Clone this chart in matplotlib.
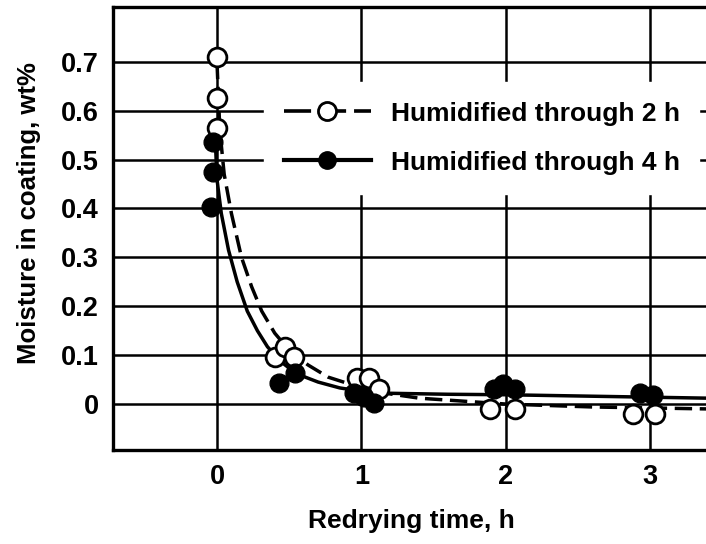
import matplotlib
matplotlib.use("Agg")
import matplotlib.pyplot as plt

plt.rcParams['font.family'] = ['Liberation Sans', 'DejaVu Sans']
plt.rcParams['font.weight'] = 'bold'

# measured points, humidified through 2 h (open circles)
x_2h = [0.0, 0.0, 0.0, 0.40, 0.47, 0.53, 0.97, 1.05, 1.12, 1.89, 2.06, 2.88, 3.03]
y_2h = [0.71, 0.625, 0.565, 0.096, 0.117, 0.096, 0.053, 0.053, 0.03, -0.01, -0.01, -0.02, -0.02]

# measured points, humidified through 4 h (filled circles)
x_4h = [-0.03, -0.03, -0.04, 0.43, 0.54, 0.95, 1.02, 1.09, 1.92, 1.98, 2.06, 2.93, 3.02]
y_4h = [0.535, 0.475, 0.403, 0.043, 0.063, 0.022, 0.015, 0.002, 0.03, 0.04, 0.03, 0.022, 0.018]

# fitted curves
cx_2h = [0.0, 0.02, 0.05, 0.10, 0.17, 0.24, 0.31, 0.40, 0.50, 0.63, 0.77, 0.95, 1.1, 1.4, 2.0, 2.6, 3.4]
cy_2h = [0.70, 0.56, 0.47, 0.39, 0.30, 0.24, 0.19, 0.145, 0.11, 0.08, 0.055, 0.038, 0.025, 0.012, 0.0, -0.006, -0.01]

cx_4h = [-0.01, 0.0, 0.03, 0.08, 0.14, 0.21, 0.28, 0.35, 0.45, 0.55, 0.70, 0.85, 1.0, 1.2, 1.6, 2.0, 2.6, 3.4]
cy_4h = [0.53, 0.46, 0.39, 0.315, 0.25, 0.19, 0.15, 0.117, 0.085, 0.062, 0.045, 0.033, 0.026, 0.022, 0.02, 0.019, 0.016, 0.012]

fig = plt.figure(figsize=(7.06, 5.44), dpi=100)
ax = fig.add_axes([0.160, 0.1728, 0.845, 0.8142])

ax.plot(cx_2h, cy_2h, color="black", linewidth=2.5, dashes=(5, 2.2), zorder=3)
ax.plot(cx_4h, cy_4h, color="black", linewidth=2.5, zorder=3)
ax.plot(x_2h, y_2h, linestyle="none", marker="o", markersize=13.5, markerfacecolor="white",
        markeredgecolor="black", markeredgewidth=2.0, zorder=4)
ax.plot(x_4h, y_4h, linestyle="none", marker="o", markersize=13.5, markerfacecolor="black",
        markeredgecolor="black", zorder=4)

# legend handles
h2, = ax.plot([], [], color="black", linewidth=2.6, dashes=(7.5, 2.2), marker="o", markersize=13,
              markerfacecolor="white", markeredgecolor="black", markeredgewidth=2.0)
h4, = ax.plot([], [], color="black", linewidth=3.0, marker="o", markersize=12.5,
              markerfacecolor="black", markeredgecolor="black")
leg = ax.legend([h2, h4], ["Humidified through 2 h", "Humidified through 4 h"],
                loc="upper left", bbox_to_anchor=(0.253, 0.831), fontsize=19,
                handlelength=3.3, handletextpad=0.75, labelspacing=0.94,
                frameon=True, fancybox=False, borderpad=0.75, borderaxespad=0)
leg.get_frame().set_edgecolor("white")
leg.get_frame().set_facecolor("white")
leg.get_frame().set_alpha(1)
leg.set_zorder(5)

ax.set_xlim(-0.72, 3.41)
ax.set_ylim(-0.094, 0.812)
ax.set_xticks([0, 1, 2, 3])
ax.set_xticklabels(["0", "1", "2", "3"])
ax.set_yticks([0, 0.1, 0.2, 0.3, 0.4, 0.5, 0.6, 0.7])
ax.set_yticklabels(["0", "0.1", "0.2", "0.3", "0.4", "0.5", "0.6", "0.7"])
ax.tick_params(length=0, labelsize=19.5, pad=10)
ax.grid(True, color="black", linewidth=1.8)
ax.set_axisbelow(True)
for side in ["left", "top", "bottom"]:
    ax.spines[side].set_linewidth(2.4)
ax.spines["right"].set_visible(False)

ax.set_xlabel("Redrying time, h", fontsize=19, fontweight="bold", labelpad=14)
ax.set_ylabel("Moisture in coating, wt%", fontsize=18.5, fontweight="bold")
ax.yaxis.set_label_coords(-0.121, 0.535)

fig.savefig("out.png", dpi=100)
